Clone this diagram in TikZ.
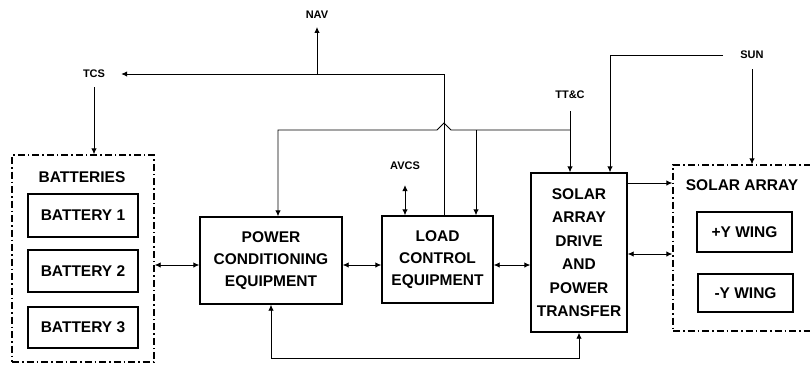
\documentclass[tikz,border=0pt]{standalone}
\usepackage{fontspec}
\setsansfont{Liberation Sans}
\usetikzlibrary{arrows.meta, positioning, calc}

\begin{document}
\begin{tikzpicture}[
  x=1pt, y=-1pt,
  unit/.style={draw, line width=1.4pt, align=center, inner sep=2pt,
    font=\sffamily\bfseries\fontsize{15.5}{22}\selectfont},
  group/.style={draw, line width=1.4pt,
    dash pattern=on 7pt off 3pt on 1.5pt off 3pt},
  title/.style={font=\sffamily\bfseries\fontsize{15.5}{18}\selectfont},
  tag/.style={font=\sffamily\bfseries\fontsize{11}{12}\selectfont, inner sep=2pt},
  link/.style={line width=0.9pt},
  >={Latex[length=6pt,width=5.5pt]}
]
  \useasboundingbox (0,0) rectangle (810,368);

  % Rows of the connectors
  \coordinate (sunrow) at (0,55);
  \coordinate (toprow) at (0,74);
  \coordinate (busrow) at (0,130);
  \coordinate (drvrow) at (0,183);
  \coordinate (pwrrow) at (0,254);
  \coordinate (powrow) at (0,265);
  \coordinate (fbrow) at (0,358);

  % Batteries
  \node[group, minimum width=142pt, minimum height=207pt] (bats) at (83,258.5) {};
  \node[title] (batstitle) at (82,177) {BATTERIES};
  \node[unit, minimum width=110pt, minimum height=43pt] (bat1) at (83,215.5) {BATTERY 1};
  \node[unit, minimum width=110pt, minimum height=42pt] (bat2) at (83,271) {BATTERY 2};
  \node[unit, minimum width=110pt, minimum height=41pt] (bat3) at (83,327.5) {BATTERY 3};

  % Main units
  \node[unit, minimum width=142pt, minimum height=87pt] (pce) at (271,260.5)
    {POWER\\CONDITIONING\\EQUIPMENT};
  \node[unit, minimum width=111pt, minimum height=87pt] (lce) at (437.5,259.5)
    {LOAD\\CONTROL\\EQUIPMENT};
  \node[unit, minimum width=96pt, minimum height=159pt,
    font=\sffamily\bfseries\fontsize{15.5}{23.5}\selectfont] (sad) at (579,252.5)
    {SOLAR\\ARRAY\\DRIVE\\AND\\POWER\\TRANSFER};

  % Solar array
  \node[group, minimum width=167pt, minimum height=166pt] (sarray) at (756.5,248) {};
  \node[title] (sarraytitle) at (742,185) {SOLAR ARRAY};
  \node[unit, minimum width=95pt, minimum height=40pt] (wingp) at (744.5,232) {+Y WING};
  \node[unit, minimum width=95pt, minimum height=38pt] (wingm) at (745.5,293) {-Y WING};

  % Outside links
  \node[tag] (nav) at (317,15) {NAV};
  \node[tag] (tcs) at (94,74) {TCS};
  \node[tag] (avcs) at (405,166) {AVCS};
  \node[tag] (ttc) at (570,95) {TT\&C};
  \node[tag] (sun) at (752,55) {SUN};

  % Taps on the box tops
  \coordinate (lcetap) at ([xshift=6.5pt]lce.north);
  \coordinate (lcein) at ([xshift=38.5pt]lce.north);
  \coordinate (lceavcs) at ([xshift=-32.5pt]lce.north);
  \coordinate (pcein) at ([xshift=7pt]pce.north);
  \coordinate (sadsun) at ([xshift=31pt]sad.north);
  \coordinate (sadttc) at ([xshift=-9pt]sad.north);

  % Power path
  \draw[link,<->] (bats.east |- powrow) -- (pce.west |- powrow);
  \draw[link,<->] (pce.east |- powrow) -- (lce.west |- powrow);
  \draw[link,<->] (lce.east |- powrow) -- (sad.west |- powrow);
  \draw[link,->] (sad.east |- drvrow) -- (sarray.west |- drvrow);
  \draw[link,<->] (sad.east |- pwrrow) -- (sarray.west |- pwrrow);
  \draw[link,<->] (pce.south) -- (pce.south |- fbrow) -| (sad.south);

  % TCS and NAV
  \draw[link,->] (lcetap) |- ([xshift=14pt]tcs.east);
  \draw[link,->, shorten >=6pt] (nav |- toprow) -- (nav.south);
  \draw[link,->, shorten <=7pt] (tcs.south) -- (tcs.south |- bats.north);

  % TT&C bus, hopping over the TCS line
  \draw[link,->, shorten <=10pt] (ttc.south) -- (sadttc);
  \draw[link,->] (ttc |- busrow) -- ($(lcetap |- busrow)+(7,0)$)
    -- ++(-7,-7) -- ++(-7,7) -| (pcein);
  \draw[link,->] (lcein |- busrow) -- (lcein);

  % AVCS
  \draw[link,<->, shorten >=13pt] (lceavcs) -- (lceavcs |- avcs.south);

  % SUN
  \draw[link,->, shorten <=8pt] (sun.south) -- (sun.south |- sarray.north);
  \draw[link,->, shorten <=15pt] (sun.west) -| (sadsun);
\end{tikzpicture}
\end{document}
